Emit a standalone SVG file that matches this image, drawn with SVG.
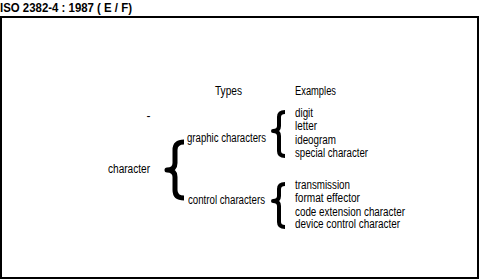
<svg xmlns="http://www.w3.org/2000/svg" width="480" height="280" viewBox="0 0 480 280">
<style>
text{font-family:"Liberation Sans Narrow","Liberation Sans",Arial,sans-serif;font-size:12px;fill:#000}
.title{font-weight:bold;font-size:13.5px}
.brace{fill:none;stroke:#000;stroke-linecap:butt;stroke-linejoin:round}
</style>
<rect width="480" height="280" fill="#fff"/>
<text class="title" x="0" y="11.5" textLength="132" lengthAdjust="spacingAndGlyphs">ISO 2382-4 : 1987 ( E / F)</text>
<rect x="1" y="17" width="477" height="261" fill="none" stroke="#000" stroke-width="2"/>
<g id="headers">
<text x="215" y="95" textLength="27" lengthAdjust="spacingAndGlyphs">Types</text>
<text x="295" y="95" textLength="41" lengthAdjust="spacingAndGlyphs">Examples</text>
</g>
<text x="146.5" y="119.5">-</text>
<g id="character"><text x="108" y="172.5" textLength="42" lengthAdjust="spacingAndGlyphs">character</text></g>
<g id="graphic"><text x="187" y="141.5" textLength="79" lengthAdjust="spacingAndGlyphs">graphic characters</text></g>
<g id="control"><text x="188" y="204" textLength="77" lengthAdjust="spacingAndGlyphs">control characters</text></g>
<g id="graphic-examples">
<text x="295" y="116.5" textLength="18" lengthAdjust="spacingAndGlyphs">digit</text>
<text x="295" y="130" textLength="22" lengthAdjust="spacingAndGlyphs">letter</text>
<text x="295" y="143.5" textLength="41" lengthAdjust="spacingAndGlyphs">ideogram</text>
<text x="295" y="157" textLength="73" lengthAdjust="spacingAndGlyphs">special character</text>
</g>
<g id="control-examples">
<text x="295" y="189" textLength="55" lengthAdjust="spacingAndGlyphs">transmission</text>
<text x="295" y="201.5" textLength="65" lengthAdjust="spacingAndGlyphs">format effector</text>
<text x="295" y="215.5" textLength="110" lengthAdjust="spacingAndGlyphs">code extension character</text>
<text x="295" y="228" textLength="105" lengthAdjust="spacingAndGlyphs">device control character</text>
</g>
<g id="connectors">
<path class="brace" stroke-width="5" d="M184,142 Q175,142 175,150 L175,163 Q175,170 167,170 Q175,170 175,177 L175,190 Q175,198 184,198"/>
<path class="brace" stroke-width="4" d="M285,112 Q279,112 279,117 L279,126 Q279,131 273,131 Q279,131 279,136 L279,151 Q279,156 285,156"/>
<path class="brace" stroke-width="4" d="M285,184 Q279,184 279,189 L279,196 Q279,201 273,201 Q279,201 279,206 L279,222 Q279,227 285,227"/>
</g>
</svg>
